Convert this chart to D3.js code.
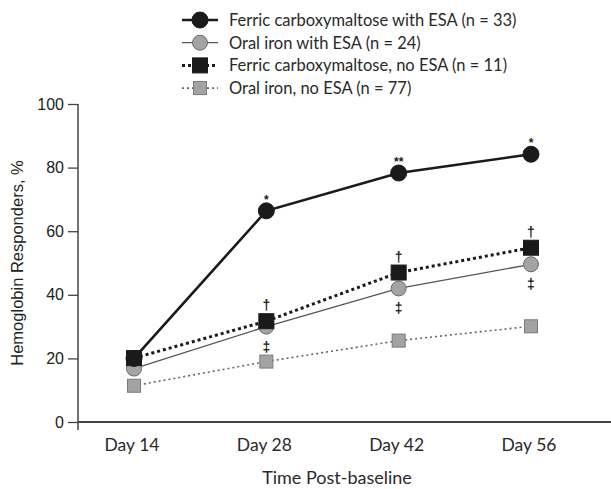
<!DOCTYPE html>
<html>
<head>
<meta charset="utf-8">
<script src="https://cdn.jsdelivr.net/npm/d3@7"></script>
<style>
  body { margin: 0; background: #fff; }
  svg { display: block; }
</style>
</head>
<body>
<div id="chart"></div>
<script>
const days = ['Day 14', 'Day 28', 'Day 42', 'Day 56'];
const yTicks = [0, 20, 40, 60, 80, 100];

const fcmEsa = [20, 66.4, 78.3, 84.2];
const oralEsa = [16.8, 30, 42, 49.6];
const fcmNoEsa = [20.1, 31.7, 47, 54.8];
const oralNoEsa = [11.4, 19, 25.6, 30.1];

// significance marks per point
const fcmEsaMarks = ['', '*', '**', '*'];
const fcmNoEsaMarks = ['', '†', '†', '†'];
const oralEsaMarks = ['', '‡', '‡', '‡'];

const legendLabels = [
  'Ferric carboxymaltose with ESA (n = 33)',
  'Oral iron with ESA (n = 24)',
  'Ferric carboxymaltose, no ESA (n = 11)',
  'Oral iron, no ESA (n = 77)'
];

const width = 611, height = 489;

const svg = d3.select('#chart').append('svg')
  .attr('width', width)
  .attr('height', height);

const x = d3.scalePoint().domain(days).range([134, 531]);
const y = d3.scaleLinear().domain([0, 100]).range([422, 104]);

// series in draw order (last on top)
const series = [
  {name: legendLabels[3], values: oralNoEsa, shape: 'square', fill: '#a3a3a3', stroke: '#7a7a7a',
   lineColor: '#666', lineWidth: 1.6, dash: '2,3', size: 13},
  {name: legendLabels[1], values: oralEsa, shape: 'circle', fill: '#a3a3a3', stroke: '#6a6a6a',
   lineColor: '#555', lineWidth: 1.3, dash: null, size: 15},
  {name: legendLabels[0], values: fcmEsa, shape: 'circle', fill: '#1a1a1a', stroke: '#1a1a1a',
   lineColor: '#1a1a1a', lineWidth: 2.6, dash: null, size: 16},
  {name: legendLabels[2], values: fcmNoEsa, shape: 'square', fill: '#1a1a1a', stroke: '#1a1a1a',
   lineColor: '#1a1a1a', lineWidth: 3, dash: '3,3', size: 15}
];

// axes
const yAxis = svg.append('g')
  .attr('transform', 'translate(78,0)')
  .call(d3.axisLeft(y).tickValues(yTicks).tickSize(10).tickPadding(4));
yAxis.select('.domain').remove();
yAxis.selectAll('.tick line').attr('stroke', '#444').attr('stroke-width', 1.3);
yAxis.selectAll('.tick text')
  .attr('font-family', 'Liberation Sans, Arial, sans-serif')
  .attr('font-size', 16)
  .attr('fill', '#222');

svg.append('line')
  .attr('x1', 78).attr('x2', 78)
  .attr('y1', y(100)).attr('y2', 430)
  .attr('stroke', '#444').attr('stroke-width', 1.5);

svg.append('line')
  .attr('x1', 78).attr('x2', 611)
  .attr('y1', y(0)).attr('y2', y(0))
  .attr('stroke', '#444').attr('stroke-width', 1.8);

svg.selectAll('.xlabel')
  .data(days)
  .enter().append('text')
  .attr('class', 'xlabel')
  .attr('x', d => x(d) - 2)
  .attr('y', 451)
  .attr('text-anchor', 'middle')
  .attr('font-family', 'Lato, sans-serif')
  .attr('font-size', 17.5)
  .attr('fill', '#2a2a2a')
  .text(d => d);

svg.append('text')
  .attr('x', 337)
  .attr('y', 484)
  .attr('text-anchor', 'middle')
  .attr('font-family', 'Lato, sans-serif')
  .attr('font-size', 18)
  .attr('fill', '#2a2a2a')
  .text('Time Post-baseline');

svg.append('text')
  .attr('transform', 'translate(23,263) rotate(-90)')
  .attr('text-anchor', 'middle')
  .attr('font-family', 'Liberation Sans, Arial, sans-serif')
  .attr('font-size', 16.5)
  .attr('fill', '#222')
  .text('Hemoglobin Responders, %');

function drawMarker(g, s, cx, cy) {
  if (s.shape === 'circle') {
    g.append('circle')
      .attr('cx', cx).attr('cy', cy).attr('r', s.size / 2)
      .attr('fill', s.fill).attr('stroke', s.stroke).attr('stroke-width', 1);
  } else {
    g.append('rect')
      .attr('x', cx - s.size / 2).attr('y', cy - s.size / 2)
      .attr('width', s.size).attr('height', s.size)
      .attr('fill', s.fill).attr('stroke', s.stroke).attr('stroke-width', 1);
  }
}

const line = d3.line()
  .x((d, i) => x(days[i]))
  .y(d => y(d));

series.forEach(s => {
  const g = svg.append('g');
  g.append('path')
    .datum(s.values)
    .attr('d', line)
    .attr('fill', 'none')
    .attr('stroke', s.lineColor)
    .attr('stroke-width', s.lineWidth)
    .attr('stroke-dasharray', s.dash);
  s.values.forEach((v, i) => drawMarker(g, s, x(days[i]), y(v)));
});

// significance marks
function marks(values, labels, dy, size) {
  svg.selectAll(null)
    .data(labels)
    .enter().append('text')
    .attr('x', (d, i) => x(days[i]))
    .attr('y', (d, i) => y(values[i]) + dy)
    .attr('text-anchor', 'middle')
    .attr('font-family', 'Liberation Sans, Arial, sans-serif')
    .attr('font-size', size)
    .attr('font-weight', 'bold')
    .attr('fill', '#1a1a1a')
    .text(d => d);
}
marks(fcmEsa, fcmEsaMarks, -7, 12);
marks(fcmNoEsa, fcmNoEsaMarks, -11, 14);
marks(oralEsa, oralEsaMarks, 25, 14);

// legend
const legendOrder = [2, 1, 3, 0];
const legend = svg.append('g');
legendOrder.forEach((si, row) => {
  const s = series[si];
  const ly = 20 + row * 22.7;
  const g = legend.append('g');
  g.append('line')
    .attr('x1', 182).attr('x2', 218)
    .attr('y1', ly).attr('y2', ly)
    .attr('stroke', s.lineColor)
    .attr('stroke-width', s.lineWidth)
    .attr('stroke-dasharray', s.dash);
  drawMarker(g, s, 200, ly);
  g.append('text')
    .attr('x', 229)
    .attr('y', ly + 6)
    .attr('font-family', 'Lato, sans-serif')
    .attr('font-size', 16.5)
    .attr('fill', '#2a2a2a')
    .text(s.name);
});
</script>
</body>
</html>
